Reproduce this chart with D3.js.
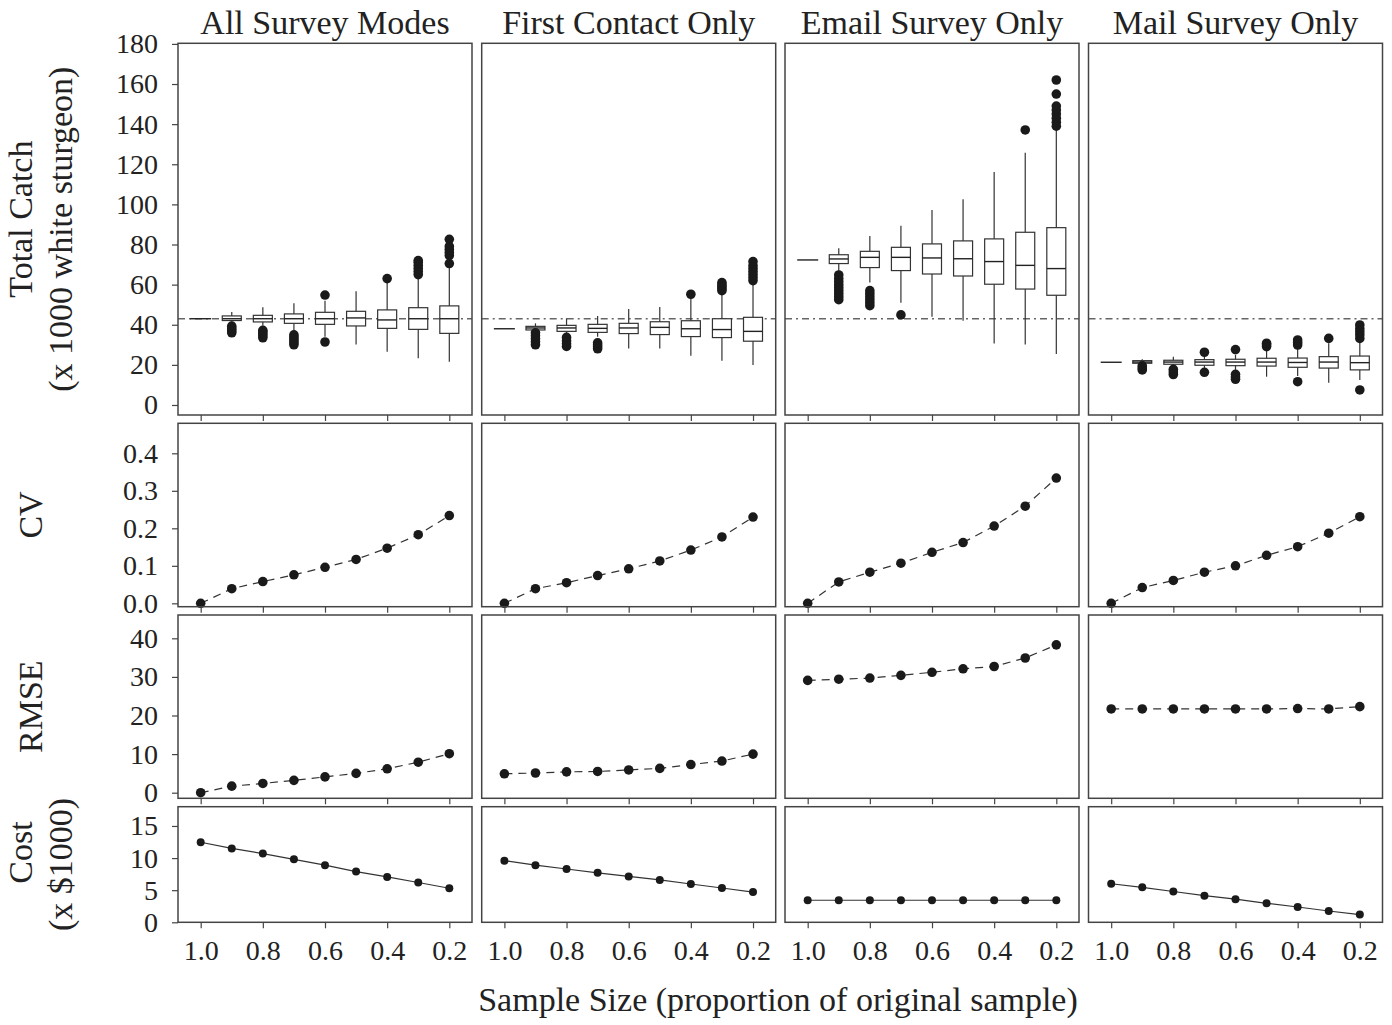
<!DOCTYPE html>
<html>
<head>
<meta charset="utf-8">
<script src="https://cdn.jsdelivr.net/npm/d3@7"></script>
<style>
  body { margin: 0; background: #fff; }
  text { font-family: "Liberation Serif", "Times New Roman", serif; fill: #222; }
</style>
</head>
<body>
<div id="canvas"></div>
<script>
// sample size proportions (x axis, reversed)
const sampleSizes = [1.0, 0.9, 0.8, 0.7, 0.6, 0.5, 0.4, 0.3, 0.2];
const xTicks = [1.0, 0.8, 0.6, 0.4, 0.2];
const modes = ["All Survey Modes", "First Contact Only", "Email Survey Only", "Mail Survey Only"];
const trueCatch = 43;

// boxplot stats per sample size: [low whisker, q1, median, q3, high whisker]
const boxAll = [[43,43,43,43,43],[41.5,42.1,43,44.4,46.4],[39.5,41.4,43,44.7,48.7],[37,40.7,43,45.4,50.7],
  [34,40.2,43,46.2,52],[30.1,39.4,43.4,46.7,56.7],[26.6,38.2,42.4,47.4,61.5],[23.3,37.7,43,48.5,63.5],[21.6,35.7,43,49.4,69.5]];
const outAll = [[],[36,37,38,39.3],[33.5,34.5,35.5,36.5,37.2],[30,31,32,33,34,35],[31.4,54.8],[],[63],
  [65,66.5,68,69.5,71,72],[70.5,74.5,76,77.5,79,82.6]];

const boxFirst = [[38,38,38,38,38],[36.6,37.4,38.4,39.2,40.7],[35,36.7,38.4,39.7,43.2],[34,36.2,38.2,40.2,44.4],
  [28.1,35.6,38.4,40.7,47.9],[28.1,35.1,38.7,41.5,48.9],[24.6,34.1,38,42,53.5],[22.1,33.6,37.6,43,56],[19.9,31.8,36.7,43.7,60.7]];
const outFirst = [[],[30,31.5,33,34.5,36],[29.2,30.5,32,33.7],[28,29,30,31],[],[],[55.2],
  [57,58,59,60,61],[62,63.5,65,66.5,68,69.5,71.5]];

const boxEmail = [[72.3,72.3,72.3,72.3,72.3],[66,70.5,72.8,74.9,78.1],[61,68.5,73.6,76.6,84.3],[51,67,73.6,78.6,89.3],
  [44,65.3,73.3,80.3,97.2],[42,64.3,72.9,81.8,102.6],[30.7,60.2,71.5,82.8,116.2],[30.2,57.8,69.6,86.1,125.8],[25.4,54.7,68,88.4,138]];
const outEmail = [[],[52.5,54,55.5,57,58.5,60,61.5,63,64.8],[49.5,51,52.5,54,55.5,57],[44.9],[],[],[],
  [137.1],[139,141,143,145,147,149,155,162]];

const boxMail = [[21.3,21.3,21.3,21.3,21.3],[20.2,20.8,21.4,22.1,22.8],[19.5,20.3,21.4,22.3,24.1],[18.2,19.8,21.4,22.6,24.7],
  [17.5,19.6,21.4,22.8,24.9],[14.1,19.4,21.4,23.3,27.4],[14.5,18.8,21.2,23.4,28.5],[11.1,18.4,21.4,24.1,30.8],[12.5,17.5,21.1,24.4,32.5]];
const outMail = [[],[17.5,18.5,19.5],[15.2,16.5,17.8],[16.3,26.3],[12.8,14,15.3,27.6],[29.1,30,30.8],
  [11.6,29.9,31.2,32.4],[33.2],[7.5,33.2,35,36.5,38,39.9]];

// coefficient of variation
const cvAll   = [0, 0.039, 0.058, 0.076, 0.096, 0.117, 0.147, 0.183, 0.234];
const cvFirst = [0, 0.039, 0.055, 0.074, 0.092, 0.113, 0.142, 0.177, 0.230];
const cvEmail = [0, 0.057, 0.083, 0.107, 0.136, 0.162, 0.206, 0.259, 0.334];
const cvMail  = [0, 0.042, 0.061, 0.083, 0.100, 0.128, 0.151, 0.187, 0.231];

// RMSE
const rmseAll   = [0, 1.7, 2.4, 3.2, 4.1, 5.0, 6.2, 7.9, 10.1];
const rmseFirst = [4.9, 5.1, 5.4, 5.5, 5.9, 6.3, 7.3, 8.2, 10.0];
const rmseEmail = [29.1, 29.4, 29.7, 30.4, 31.2, 32.1, 32.7, 34.9, 38.3];
const rmseMail  = [21.7, 21.7, 21.7, 21.7, 21.7, 21.7, 21.8, 21.7, 22.3];

// cost (x $1000)
const costAll   = [12.46, 11.5, 10.7, 9.8, 8.9, 7.9, 7.06, 6.2, 5.3];
const costFirst = [9.6, 8.9, 8.3, 7.7, 7.15, 6.6, 5.96, 5.34, 4.7];
const costEmail = [3.43, 3.43, 3.43, 3.43, 3.43, 3.43, 3.43, 3.43, 3.43];
const costMail  = [6.0, 5.45, 4.8, 4.15, 3.6, 2.96, 2.38, 1.76, 1.2];

const boxes = [boxAll, boxFirst, boxEmail, boxMail];
const outliers = [outAll, outFirst, outEmail, outMail];
const cvs = [cvAll, cvFirst, cvEmail, cvMail];
const rmses = [rmseAll, rmseFirst, rmseEmail, rmseMail];
const costs = [costAll, costFirst, costEmail, costMail];

// layout
const colX = [178, 481.7, 785, 1088.5];
const panelW = 294;
const rows = [
  {top: 43.3, bottom: 415, domain: [-4.99, 180.3], ticks: d3.range(0, 181, 20), fmt: d3.format("d"), label: ["Total Catch", "(x 1000 white sturgeon)"], shift: [-10, 0]},
  {top: 423.3, bottom: 606.7, domain: [-0.009, 0.48], ticks: [0, 0.1, 0.2, 0.3, 0.4], fmt: d3.format(".1f"), label: ["CV"], shift: [0]},
  {top: 615, bottom: 798.3, domain: [-1.45, 46.04], ticks: [0, 10, 20, 30, 40], fmt: d3.format("d"), label: ["RMSE"], shift: [0]},
  {top: 806.7, bottom: 922.3, domain: [0, 18], ticks: [0, 5, 10, 15], fmt: d3.format("d"), label: ["Cost", "(x $1000)"], shift: [-12, 0]}
];

const svg = d3.select("#canvas").append("svg")
  .attr("width", 1392).attr("height", 1025);

const x = d3.scaleLinear().domain([1.073, 0.127]).range([0, panelW]);

rows.forEach(function(row, ri) {
  const h = row.bottom - row.top;
  const y = d3.scaleLinear().domain(row.domain).range([h, 0]);

  colX.forEach(function(cx, ci) {
    const g = svg.append("g").attr("transform", `translate(${cx},${row.top})`);

    // content
    if (ri === 0) {
      g.append("line")
        .attr("x1", 0).attr("x2", panelW)
        .attr("y1", y(trueCatch)).attr("y2", y(trueCatch))
        .attr("stroke", "#666").attr("stroke-width", 1.3)
        .attr("stroke-dasharray", "7,4,2,4");

      const bw = 19;
      boxes[ci].forEach(function(b, i) {
        const px = x(sampleSizes[i]);
        g.append("line").attr("x1", px).attr("x2", px)
          .attr("y1", y(b[0])).attr("y2", y(b[4]))
          .attr("stroke", "#333").attr("stroke-width", 1.2);
        if (b[3] > b[1]) {
          g.append("rect").attr("x", px - bw / 2).attr("width", bw)
            .attr("y", y(b[3])).attr("height", y(b[1]) - y(b[3]))
            .attr("fill", "#fff").attr("stroke", "#333").attr("stroke-width", 1.2);
        }
        g.append("line").attr("x1", px - (i === 0 ? 10.5 : bw / 2)).attr("x2", px + (i === 0 ? 10.5 : bw / 2))
          .attr("y1", y(b[2])).attr("y2", y(b[2]))
          .attr("stroke", "#222").attr("stroke-width", 1.4);
        g.selectAll(null).data(outliers[ci][i]).join("circle")
          .attr("cx", px).attr("cy", function(d) { return y(d); })
          .attr("r", 4.8).attr("fill", "#1a1a1a");
      });
    } else {
      const vals = ri === 1 ? cvs[ci] : ri === 2 ? rmses[ci] : costs[ci];
      const line = d3.line()
        .x(function(d, i) { return x(sampleSizes[i]); })
        .y(function(d) { return y(d); });
      g.append("path").datum(vals)
        .attr("d", line)
        .attr("fill", "none")
        .attr("stroke", "#333").attr("stroke-width", 1.2)
        .attr("stroke-dasharray", ri === 3 ? null : "8,6");
      g.selectAll(null).data(vals).join("circle")
        .attr("cx", function(d, i) { return x(sampleSizes[i]); })
        .attr("cy", function(d) { return y(d); })
        .attr("r", ri === 3 ? 4 : 4.8)
        .attr("fill", "#1a1a1a");
    }

    // frame
    g.append("rect").attr("x", 0).attr("y", 0).attr("width", panelW).attr("height", h)
      .attr("fill", "none").attr("stroke", "#444").attr("stroke-width", 1.5);

    // x ticks below every panel
    const xa = g.append("g").attr("transform", `translate(0,${h})`)
      .call(d3.axisBottom(x).tickValues(xTicks).tickSize(6).tickPadding(12)
        .tickFormat(ri === 3 ? d3.format(".1f") : ""));
    xa.select(".domain").remove();
    xa.selectAll("line").attr("stroke", "#444").attr("stroke-width", 1.2);
    xa.selectAll("text").style("font-size", "28px").attr("fill", "#222")
      .style("font-family", "'Liberation Serif', serif");

    // y axis on first column
    if (ci === 0) {
      const ya = g.append("g")
        .call(d3.axisLeft(y).tickValues(row.ticks).tickSize(6).tickPadding(14).tickFormat(row.fmt));
      ya.select(".domain").remove();
      ya.selectAll("line").attr("stroke", "#444").attr("stroke-width", 1.2);
      ya.selectAll("text").style("font-size", "28px").attr("fill", "#222")
        .style("font-family", "'Liberation Serif', serif");
    }

    // column titles
    if (ri === 0) {
      svg.append("text")
        .attr("x", cx + panelW / 2).attr("y", 34)
        .attr("text-anchor", "middle")
        .style("font-size", "34px")
        .text(modes[ci]);
    }
  });

  // row labels
  const cy = (row.top + row.bottom) / 2;
  row.label.forEach(function(t, li) {
    const lx = row.label.length === 1 ? 42 : (li === 0 ? 32 : 72);
    svg.append("text")
      .attr("transform", `translate(${lx},${cy + row.shift[li]}) rotate(-90)`)
      .attr("text-anchor", "middle")
      .style("font-size", "34px")
      .text(t);
  });
});

// x axis title
svg.append("text")
  .attr("x", 778).attr("y", 1011)
  .attr("text-anchor", "middle")
  .style("font-size", "34px")
  .text("Sample Size (proportion of original sample)");
</script>
</body>
</html>
